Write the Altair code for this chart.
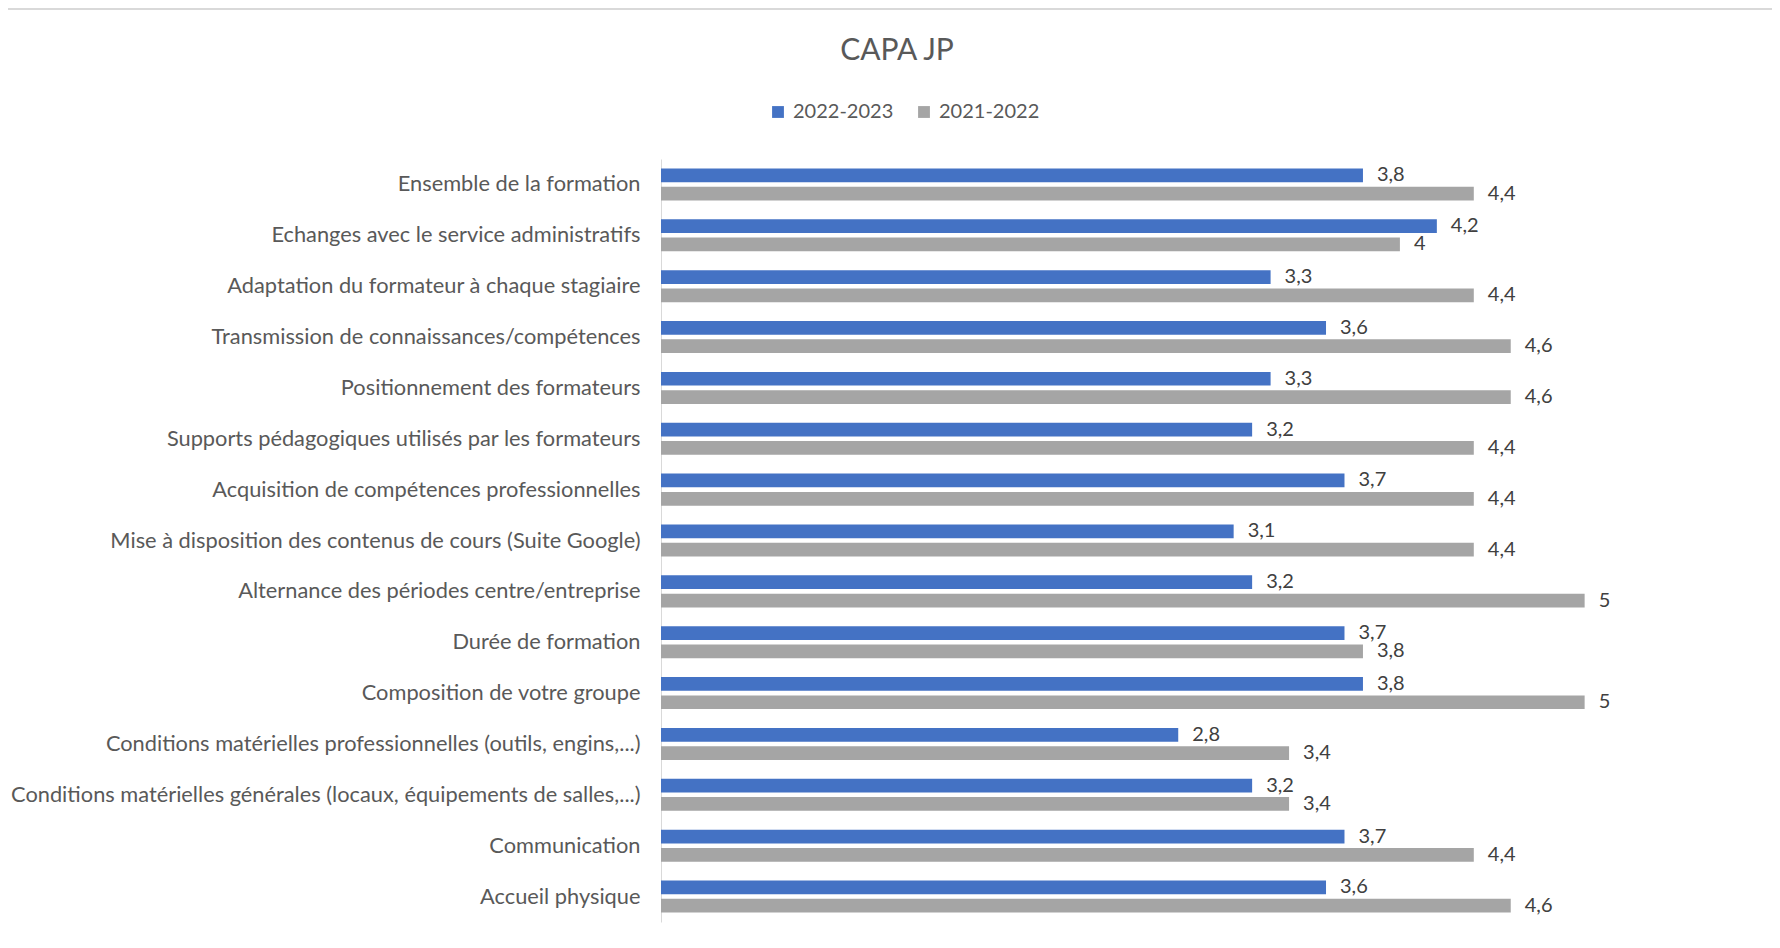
import altair as alt
import pandas as pd

categories = [
    "Ensemble de la formation",
    "Echanges avec le service administratifs",
    "Adaptation du formateur à chaque stagiaire",
    "Transmission de connaissances/compétences",
    "Positionnement des formateurs",
    "Supports pédagogiques utilisés par les formateurs",
    "Acquisition de compétences professionnelles",
    "Mise à disposition des contenus de cours (Suite Google)",
    "Alternance des périodes centre/entreprise",
    "Durée de formation",
    "Composition de votre groupe",
    "Conditions matérielles professionnelles (outils, engins,...)",
    "Conditions matérielles générales (locaux, équipements de salles,...)",
    "Communication",
    "Accueil physique",
]
values_2022_2023 = [3.8, 4.2, 3.3, 3.6, 3.3, 3.2, 3.7, 3.1, 3.2, 3.7, 3.8, 2.8, 3.2, 3.7, 3.6]
values_2021_2022 = [4.4, 4.0, 4.4, 4.6, 4.6, 4.4, 4.4, 4.4, 5.0, 3.8, 5.0, 3.4, 3.4, 4.4, 4.6]
series = ["2022-2023", "2021-2022"]
colors = ["#4472C4", "#A5A5A5"]

rows = []
for c, a, b in zip(categories, values_2022_2023, values_2021_2022):
    rows.append({"cat": c, "serie": series[0], "val": a})
    rows.append({"cat": c, "serie": series[1], "val": b})
df = pd.DataFrame(rows)

FONT = "Lato"

base = alt.Chart(df).encode(
    y=alt.Y(
        "cat:N",
        sort=categories,
        title=None,
        scale=alt.Scale(paddingInner=0.37, paddingOuter=0.185),
        axis=alt.Axis(
            ticks=False,
            domainColor="#d9d9d9",
            domainWidth=1,
            labelFont=FONT,
            labelFontSize=21.8,
            labelColor="#595959",
            labelLimit=0,
            labelPadding=21,
            grid=False,
        ),
    ),
    yOffset=alt.YOffset(
        "serie:N", sort=series, scale=alt.Scale(paddingInner=0.25, paddingOuter=0)
    ),
)

bars = base.mark_bar().encode(
    x=alt.X(
        "val:Q",
        scale=alt.Scale(domain=[0, 5.5], nice=False, zero=True),
        axis=None,
    ),
    color=alt.Color(
        "serie:N",
        sort=series,
        scale=alt.Scale(domain=series, range=colors),
        legend=alt.Legend(
            title=None,
            orient="none",
            legendX=107,
            legendY=-57,
            direction="horizontal",
            symbolType="square",
            symbolSize=140,
            symbolStrokeWidth=0,
            labelFont=FONT,
            labelFontSize=20,
            labelColor="#595959",
            labelOffset=5,
            columnPadding=20,
        ),
    ),
)

labels = (
    base.transform_calculate(
        lbl="replace(format(datum.val, '.1~f'), '.', ',')"
    )
    .mark_text(
        align="left",
        baseline="middle",
        dx=14,
        font=FONT,
        fontSize=20,
        color="#404040",
    )
    .encode(x=alt.X("val:Q"), text="lbl:N")
)

border = (
    alt.Chart(alt.Data(values=[{"k": 1}]))
    .mark_rule(color="#d9d9d9", strokeWidth=2)
    .encode(x=alt.value(-660), x2=alt.value(1120), y=alt.value(-150))
)

chart = (
    alt.layer(border, bars, labels)
    .properties(
        width=1016,
        height=763,
        title=alt.Title(
            "CAPA JP",
            font=FONT,
            fontSize=30,
            fontWeight="normal",
            color="#595959",
            anchor="middle",
            frame="group",
            dx=-272,
            dy=62,
        ),
        autosize=alt.AutoSizeParams(type="none"),
        padding={"left": 653, "top": 151, "right": 95, "bottom": 18},
    )
    .configure_view(stroke=None)
)

chart.save("out.html", embed_options={"renderer": "svg", "actions": False})
